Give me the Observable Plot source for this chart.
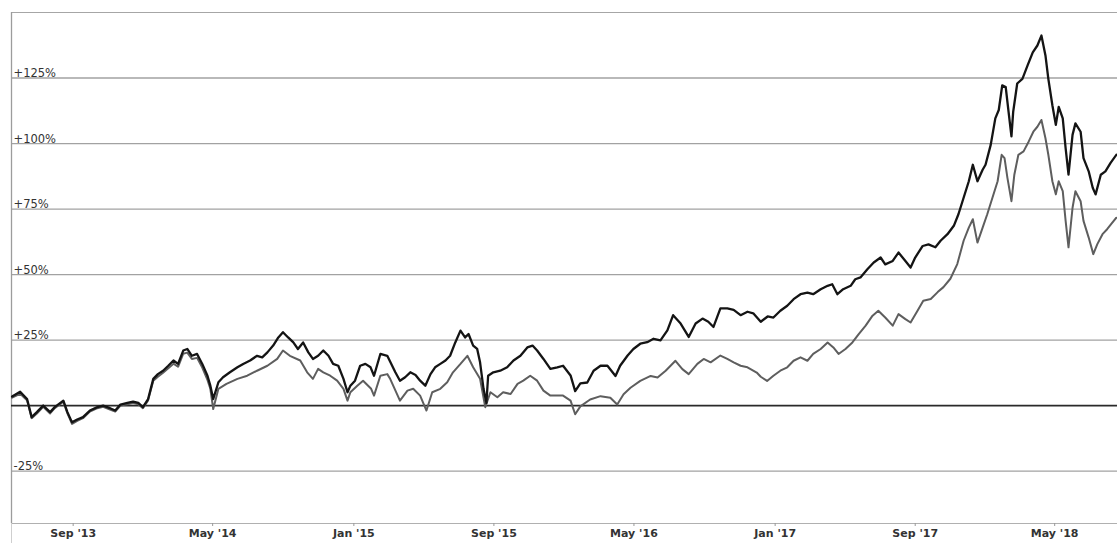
<!DOCTYPE html>
<html><head><meta charset="utf-8">
<script src="https://cdn.jsdelivr.net/npm/d3@7"></script>
<script src="https://cdn.jsdelivr.net/npm/@observablehq/plot@0.6"></script>
<style>body{margin:0;background:#fff;} #chart svg{display:block;}</style>
</head><body><div id="chart"></div>
<script>
// Series A (black line): [date, % change]
const seriesA = [["2013-05-18",3.5],["2013-06-01",5.3],["2013-06-13",2.5],["2013-06-21",-4.4],["2013-06-30",-2.5],["2013-07-11",0],["2013-07-23",-2.5],["2013-07-31",-0.6],["2013-08-15",1.9],["2013-08-22",-2.5],["2013-08-30",-6.4],["2013-09-08",-5.3],["2013-09-18",-4.4],["2013-09-30",-1.9],["2013-10-13",-0.6],["2013-10-23",0],["2013-11-04",-1],["2013-11-13",-1.9],["2013-11-22",0.4],["2013-12-04",1],["2013-12-14",1.5],["2013-12-23",1],["2013-12-31",-0.6],["2014-01-09",2.5],["2014-01-18",10.2],["2014-01-26",12],["2014-02-04",13.3],["2014-02-13",15.2],["2014-02-22",17.2],["2014-03-02",15.9],["2014-03-11",21],["2014-03-18",21.6],["2014-03-26",19],["2014-04-04",19.7],["2014-04-13",15.9],["2014-04-22",11.4],["2014-04-27",7.6],["2014-05-02",2.5],["2014-05-11",8.9],["2014-05-19",10.8],["2014-05-31",12.7],["2014-06-13",14.6],["2014-06-23",15.9],["2014-07-05",17.2],["2014-07-17",19],["2014-07-26",18.4],["2014-08-04",20.3],["2014-08-14",22.9],["2014-08-23",26],["2014-08-31",28],["2014-09-09",26],["2014-09-18",24.1],["2014-09-26",21.6],["2014-10-05",24.1],["2014-10-14",20.3],["2014-10-22",17.8],["2014-10-31",19],["2014-11-09",21],["2014-11-18",19],["2014-11-26",15.9],["2014-12-05",15.2],["2014-12-14",10.2],["2014-12-21",5.1],["2014-12-26",7.6],["2015-01-03",9.5],["2015-01-12",15.2],["2015-01-21",15.9],["2015-01-30",14.6],["2015-02-05",11.4],["2015-02-16",19.7],["2015-02-28",19],["2015-03-07",15.9],["2015-03-14",12.7],["2015-03-22",9.5],["2015-03-31",10.8],["2015-04-09",12.7],["2015-04-18",11.7],["2015-04-26",9.5],["2015-05-05",7.6],["2015-05-14",12],["2015-05-22",14.6],["2015-05-31",15.9],["2015-06-09",17.2],["2015-06-17",19],["2015-06-26",24.1],["2015-07-05",28.6],["2015-07-13",26],["2015-07-19",27.3],["2015-07-27",22.9],["2015-08-03",21.6],["2015-08-08",16.5],["2015-08-14",6.4],["2015-08-19",1],["2015-08-22",11.4],["2015-08-31",12.7],["2015-09-12",13.3],["2015-09-24",14.6],["2015-10-05",17.2],["2015-10-17",19],["2015-10-29",22.2],["2015-11-07",22.9],["2015-11-15",21],["2015-11-26",17.8],["2015-12-08",14],["2015-12-20",14.6],["2015-12-30",15.2],["2016-01-12",11.5],["2016-01-20",5.5],["2016-01-29",8.5],["2016-02-10",8.8],["2016-02-21",13.3],["2016-03-04",15.2],["2016-03-16",15.2],["2016-03-30",11.3],["2016-04-07",15.2],["2016-04-20",19.1],["2016-04-30",21.6],["2016-05-12",23.6],["2016-05-24",24.2],["2016-06-04",25.5],["2016-06-16",24.9],["2016-06-28",28.7],["2016-07-08",34.5],["2016-07-21",31.3],["2016-08-04",26.2],["2016-08-16",31.3],["2016-08-28",33.2],["2016-09-07",32],["2016-09-16",30],["2016-09-28",37.1],["2016-10-10",37.1],["2016-10-21",36.5],["2016-11-02",34.5],["2016-11-14",35.8],["2016-11-24",35.2],["2016-12-07",32],["2016-12-19",34],["2016-12-29",33.6],["2017-01-10",36.2],["2017-01-22",38.1],["2017-02-02",40.6],["2017-02-14",42.5],["2017-02-26",43.1],["2017-03-08",42.5],["2017-03-21",44.4],["2017-04-02",45.7],["2017-04-10",46.3],["2017-04-19",42.5],["2017-04-29",44.4],["2017-05-12",45.7],["2017-05-20",48.2],["2017-05-29",48.9],["2017-06-10",52],["2017-06-21",54.6],["2017-07-03",56.5],["2017-07-11",53.9],["2017-07-24",55.2],["2017-08-03",58.4],["2017-08-15",55.2],["2017-08-24",52.7],["2017-09-01",56.5],["2017-09-14",60.9],["2017-09-24",61.5],["2017-10-06",60.4],["2017-10-15",62.9],["2017-10-27",65.4],["2017-11-07",68.6],["2017-11-15",73],["2017-11-24",79.3],["2017-12-03",85.6],["2017-12-10",91.9],["2017-12-18",85.6],["2017-12-27",90],["2018-01-01",91.9],["2018-01-10",99.5],["2018-01-18",109.6],["2018-01-24",112.8],["2018-01-30",122.2],["2018-02-05",121.6],["2018-02-10",112.1],["2018-02-15",102.7],["2018-02-18",112.1],["2018-02-25",122.9],["2018-03-06",124.7],["2018-03-15",129.8],["2018-03-24",134.8],["2018-04-01",137.4],["2018-04-08",141.2],["2018-04-15",133.6],["2018-04-20",124.7],["2018-04-27",114.6],["2018-05-03",107.1],["2018-05-08",114],["2018-05-15",109.6],["2018-05-20",98.2],["2018-05-25",88.1],["2018-06-01",103.3],["2018-06-06",107.7],["2018-06-15",104.5],["2018-06-20",94.4],["2018-06-29",89.4],["2018-07-06",83.1],["2018-07-11",80.6],["2018-07-20",88.1],["2018-07-28",89.4],["2018-08-06",92.6],["2018-08-16",95.7]];

// Series B (grey line): [date, % change]
const seriesB = [["2013-05-18",3],["2013-06-01",4.5],["2013-06-13",2],["2013-06-21",-4.8],["2013-06-30",-3],["2013-07-11",-0.5],["2013-07-23",-3],["2013-07-31",-1],["2013-08-15",1.5],["2013-08-22",-3],["2013-08-30",-7],["2013-09-08",-5.8],["2013-09-18",-4.8],["2013-09-30",-2.3],["2013-10-13",-1],["2013-10-23",-0.5],["2013-11-04",-1.5],["2013-11-13",-2.3],["2013-11-22",0],["2013-12-04",0.5],["2013-12-14",1],["2013-12-23",0.5],["2013-12-31",-1],["2014-01-09",2],["2014-01-18",9.5],["2014-01-26",11],["2014-02-04",12.5],["2014-02-13",14.2],["2014-02-22",16],["2014-03-02",14.8],["2014-03-11",19.8],["2014-03-18",20.2],["2014-03-26",17.8],["2014-04-04",18.2],["2014-04-13",14.5],["2014-04-22",9.8],["2014-04-27",6.4],["2014-05-02",-1.3],["2014-05-11",6.4],["2014-05-25",8.3],["2014-06-13",10.2],["2014-06-30",11.4],["2014-07-17",13.3],["2014-08-04",15.2],["2014-08-21",17.8],["2014-08-31",21],["2014-09-12",19],["2014-09-30",17.2],["2014-10-12",12.7],["2014-10-22",10.2],["2014-10-31",14],["2014-11-09",12.7],["2014-11-21",11.4],["2014-12-03",9.5],["2014-12-14",6.4],["2014-12-21",1.9],["2014-12-26",5.1],["2015-01-07",7.6],["2015-01-17",9.5],["2015-01-31",6.4],["2015-02-05",3.8],["2015-02-16",11.4],["2015-02-28",12],["2015-03-05",10.2],["2015-03-22",1.9],["2015-04-04",5.7],["2015-04-14",6.4],["2015-04-26",3.8],["2015-05-07",-1.9],["2015-05-17",5.1],["2015-05-31",6.4],["2015-06-12",8.9],["2015-06-22",12.7],["2015-07-05",15.9],["2015-07-17",19],["2015-07-27",14.6],["2015-08-08",10.2],["2015-08-17",-0.6],["2015-08-26",5.1],["2015-09-07",3.2],["2015-09-17",5.1],["2015-09-30",4.4],["2015-10-12",8.3],["2015-10-22",9.5],["2015-11-03",11.4],["2015-11-15",9.5],["2015-11-26",5.7],["2015-12-08",3.8],["2015-12-20",3.8],["2015-12-30",3.8],["2016-01-12",1.9],["2016-01-20",-3.3],["2016-01-29",-0.3],["2016-02-15",2.3],["2016-03-04",3.6],["2016-03-21",3],["2016-04-02",0.4],["2016-04-13",4.3],["2016-04-25",6.8],["2016-05-12",9.4],["2016-05-30",11.3],["2016-06-11",10.7],["2016-06-25",13.3],["2016-07-12",17.1],["2016-07-24",13.9],["2016-08-04",12],["2016-08-19",15.9],["2016-08-30",17.8],["2016-09-11",16.5],["2016-09-28",19.1],["2016-10-10",17.8],["2016-10-21",16.5],["2016-11-02",15.2],["2016-11-14",14.6],["2016-11-30",12.6],["2016-12-07",11],["2016-12-18",9.4],["2016-12-29",11.4],["2017-01-10",13.3],["2017-01-22",14.6],["2017-02-02",17.1],["2017-02-14",18.4],["2017-02-26",17.1],["2017-03-08",19.7],["2017-03-21",21.6],["2017-04-02",24.1],["2017-04-12",22.2],["2017-04-21",19.7],["2017-05-03",21.6],["2017-05-15",24.1],["2017-05-26",27.3],["2017-06-07",30.5],["2017-06-19",34.3],["2017-06-29",36.2],["2017-07-11",33.6],["2017-07-24",30.5],["2017-08-03",34.9],["2017-08-15",33],["2017-08-24",31.7],["2017-09-05",36.2],["2017-09-15",40],["2017-09-28",40.7],["2017-10-10",43.3],["2017-10-20",45.2],["2017-11-01",48.4],["2017-11-13",54],["2017-11-24",62.9],["2017-12-03",67.9],["2017-12-10",71.1],["2017-12-18",62.2],["2017-12-27",67.9],["2018-01-04",73],["2018-01-13",79.3],["2018-01-22",85.6],["2018-01-29",95.7],["2018-02-03",94.4],["2018-02-08",86.9],["2018-02-15",78],["2018-02-20",88.1],["2018-02-27",95.7],["2018-03-08",97],["2018-03-17",100.8],["2018-03-25",104.5],["2018-04-01",106.4],["2018-04-08",109],["2018-04-15",102],["2018-04-20",95.7],["2018-04-27",85.6],["2018-05-03",80.6],["2018-05-08",85.6],["2018-05-15",81.8],["2018-05-20",70.5],["2018-05-25",60.4],["2018-06-01",75.5],["2018-06-06",81.8],["2018-06-15",78],["2018-06-20",70.5],["2018-06-29",64.1],["2018-07-07",57.8],["2018-07-14",61.6],["2018-07-23",65.4],["2018-07-31",67.3],["2018-08-09",69.8],["2018-08-16",71.7]];

const gridValues = [-25, 25, 50, 75, 100, 125];
const gridLabels = ["-25%", "+25%", "+50%", "+75%", "+100%", "+125%"];
const tickDates = ["2013-09-01", "2014-05-01", "2015-01-01", "2015-09-01", "2016-05-01", "2017-01-01", "2017-09-01", "2018-05-01"];
const tickLabels = ["Sep '13", "May '14", "Jan '15", "Sep '15", "May '16", "Jan '17", "Sep '17", "May '18"];
const xDomain = ["2013-05-17", "2018-08-18"];
const yDomain = [-45, 150];

const parse = d3.utcParse("%Y-%m-%d");
const toRows = s => s.map(([d, v]) => ({date: parse(d), value: v}));
const rowsA = toRows(seriesA);
const rowsB = toRows(seriesB);
const grid = gridValues.map((v, i) => ({v, label: gridLabels[i]}));
const ticks = tickDates.map(parse);
const labelOf = new Map(ticks.map((d, i) => [+d, tickLabels[i]]));
const x0 = parse(xDomain[0]);

const chart = Plot.plot({
  width: 1117,
  height: 543,
  marginTop: 12,
  marginBottom: 20,
  marginLeft: 11,
  marginRight: 0,
  style: {fontFamily: "DejaVu Sans", background: "#fff", overflow: "visible"},
  x: {type: "utc", domain: xDomain.map(parse)},
  y: {domain: yDomain, axis: null},
  marks: [
    Plot.ruleY(gridValues, {stroke: "#a2a2a2", strokeWidth: 1.3}),
    Plot.ruleY([yDomain[1]], {stroke: "#a6a6a6", strokeWidth: 1.2}),
    Plot.ruleY([yDomain[0]], {stroke: "#b0b0b0", strokeWidth: 1}),
    Plot.ruleX([x0], {y1: yDomain[0], y2: yDomain[1], stroke: "#9c9c9c", strokeWidth: 1.3}),
    Plot.ruleX([x0], {y1: -53, y2: yDomain[0], stroke: "#cfcfcf", strokeWidth: 1}),
    Plot.ruleY([0], {stroke: "#2a2a2a", strokeWidth: 1.7}),
    Plot.text(grid, {y: "v", text: "label", frameAnchor: "left", textAnchor: "start", lineAnchor: "bottom", dx: 2, dy: -1, fontSize: 11.5, fill: "#333"}),
    Plot.axisX(ticks, {tickFormat: d => labelOf.get(+d), tickSize: 3, tickPadding: 3, fontSize: 11, fontWeight: "bold", fill: "#333", stroke: "#999"}),
    Plot.line(rowsB, {x: "date", y: "value", stroke: "#5e5e5e", strokeWidth: 2, strokeLinejoin: "round"}),
    Plot.line(rowsA, {x: "date", y: "value", stroke: "#141414", strokeWidth: 2.3, strokeLinejoin: "round"})
  ]
});
document.getElementById("chart").appendChild(chart);
</script>
</body></html>
